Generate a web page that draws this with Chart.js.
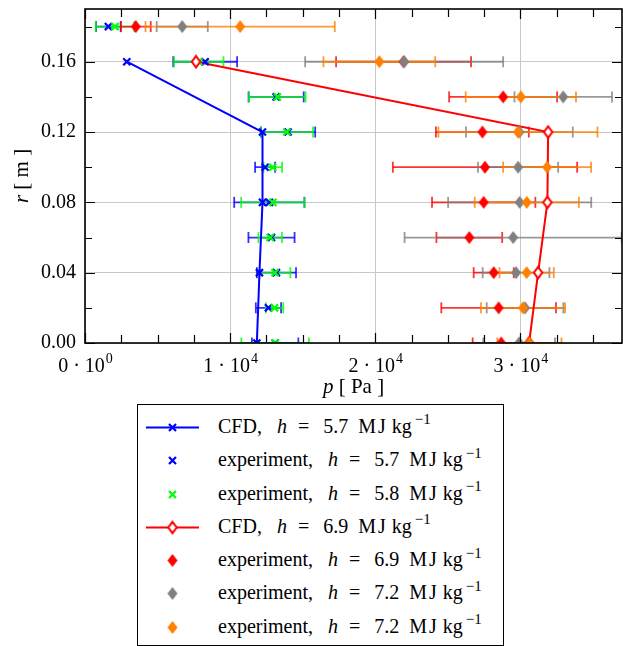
<!DOCTYPE html>
<html>
<head>
<meta charset="utf-8">
<script src="https://cdn.jsdelivr.net/npm/chart.js@4.4.1/dist/chart.umd.min.js"></script>
<style>
  html, body { margin: 0; padding: 0; background: #fff; }
  #wrap { position: relative; width: 623px; height: 646px; overflow: hidden; }
  #chart { position: absolute; left: 0; top: 0; }
  #legend {
    position: absolute; left: 137px; top: 404px; width: 367px; height: 242px;
    box-sizing: border-box; border: 1px solid #000; background: #fff;
    font-family: 'Liberation Serif', 'Times New Roman', 'DejaVu Serif', serif; font-size: 20px; color: #000;
    padding-top: 6px;
  }
  .row { position: relative; height: 33.3px; }
  .row canvas { position: absolute; left: 7px; top: 0; }
  .row .txt { position: absolute; left: 80px; top: 4px; white-space: nowrap; }
  .row .h { margin-left: 15px; font-style: italic; }
  .row .eq { margin-left: 11px; }
  .row .val { margin-left: 14px; }
  .row .mj { margin-left: 10px; letter-spacing: 2px; }
  .row .kg { margin-left: 4px; }
  .row sup { font-size: 15px; margin-left: 3px; position: relative; top: -1px; vertical-align: super; line-height: 0; }
</style>
</head>
<body>
<div id="wrap">
  <canvas id="chart" width="623" height="646"></canvas>
  <div id="legend"></div>
</div>
<script>
// radial positions of the measurement rows [m]
const rRows = [0, 0.02, 0.04, 0.06, 0.08, 0.10, 0.12, 0.14, 0.16, 0.18];

// CFD profiles
const cfdR = [0, 0.04, 0.08, 0.12, 0.16];
const cfdP57 = [11840, 12020, 12230, 12230, 2880];
const cfdP69 = [30600, 31220, 31860, 31910, 7650];

// experiments (value and half-width of the error bar), one entry per rRows
const expP57 = [13100, 12640, 13190, 12850, 12700, 12410, 13990, 13170, 8280, 1610];
const expErr57 = [1600, 870, 1350, 1590, 2420, 690, 1870, 1900, 2200, 850];
const expP58 = [13100, 13060, 13090, 12760, 12940, 12940, 13910, 13250, 7840, 2070];
const expErr58 = [2330, 600, 1060, 810, 2180, 640, 1800, 1950, 1700, 1330];
const expP69 = [28680, 28500, 28160, 26480, 27470, 27560, 27380, 28810, 21950, 3500];
const expErr69 = [1970, 3950, 1380, 2265, 3560, 6350, 3200, 3720, 4650, 1030];
const expP72a = [29910, 30320, 29700, 29500, 29950, 29840, 29930, 32950, 21990, 6700];
const expErr72a = [2470, 2640, 2300, 7480, 4930, 2760, 3680, 3360, 6820, 1760];
const expP72b = [30620, 30180, 30430, null, 30440, 31840, 29830, 30030, 20280, 10690];
const expErr72b = [2210, 2900, 1870, null, 3590, 3030, 5480, 3800, 3850, 6520];

// axes
const xTicks = [0, 10000, 20000, 30000];
const xTickLabels = ['0 · 10^0', '1 · 10^4', '2 · 10^4', '3 · 10^4'];
const yTicks = [0, 0.04, 0.08, 0.12, 0.16];

const BLUE = '#0000ff', GREEN = '#00ff00', RED = '#ff0000', GRAY = '#808080', ORANGE = '#ff8000';
const FONT = "'Liberation Serif', 'Times New Roman', 'DejaVu Serif', serif";

function toPoints(ps, rs) {
  const out = [];
  ps.forEach((p, i) => { if (p != null) out.push({ x: p, y: rs[i] }); });
  return out;
}

// each error bar is a two-point segment, separated by a gap
function toBars(ps, errs, rs) {
  const out = [];
  ps.forEach((p, i) => {
    if (p == null) return;
    out.push({ x: p - errs[i], y: rs[i] }, { x: p + errs[i], y: rs[i] }, { x: null, y: null });
  });
  return out;
}

function diamond(fill, stroke) {
  const c = document.createElement('canvas');
  c.width = 12; c.height = 15;
  const g = c.getContext('2d');
  g.beginPath();
  if (stroke) {
    g.moveTo(6, 1.8); g.lineTo(10.2, 7.5); g.lineTo(6, 13.2); g.lineTo(1.8, 7.5);
  } else {
    g.moveTo(6, 1); g.lineTo(11, 7.5); g.lineTo(6, 14); g.lineTo(1, 7.5);
  }
  g.closePath();
  g.fillStyle = fill; g.fill();
  if (stroke) { g.lineWidth = 2; g.strokeStyle = stroke; g.stroke(); }
  return c;
}

const redOpen = diamond('#fff', RED);
const redFull = diamond(RED);
const grayFull = diamond(GRAY);
const orangeFull = diamond(ORANGE);

function markers(label, data, style, color, order) {
  const isImg = typeof style !== 'string';
  return {
    label, data, order, showLine: false,
    pointStyle: style, pointRadius: isImg ? 6 : 5,
    pointBorderColor: color, pointBackgroundColor: color, pointBorderWidth: 2.2,
  };
}

function bars(data, color, order) {
  return {
    data, order, showLine: true, spanGaps: false,
    borderColor: color, borderWidth: 1.8,
    pointStyle: 'line', pointRotation: 90, pointRadius: 5.5,
    pointBorderColor: color, pointBorderWidth: 1.8,
  };
}

function cfdLine(data, color, order) {
  return { data, order, showLine: true, borderColor: color, borderWidth: 2, pointRadius: 0 };
}

function alpha(hex, a) {
  const n = parseInt(hex.slice(1), 16);
  return `rgba(${n >> 16},${(n >> 8) & 255},${n & 255},${a})`;
}

const datasets = [
  markers('exp 7.2 b', toPoints(expP72b, rRows), orangeFull, ORANGE, 0),
  markers('exp 7.2 a', toPoints(expP72a, rRows), grayFull, GRAY, 1),
  markers('exp 6.9', toPoints(expP69, rRows), redFull, RED, 2),
  markers('CFD 6.9', toPoints(cfdP69, cfdR), redOpen, RED, 3),
  markers('exp 5.8', toPoints(expP58, rRows), 'crossRot', GREEN, 4),
  markers('exp 5.7', toPoints(expP57, rRows), 'crossRot', BLUE, 5),
  markers('CFD 5.7', toPoints(cfdP57, cfdR), 'crossRot', BLUE, 6),
  cfdLine(toPoints(cfdP69, cfdR), RED, 7),
  cfdLine(toPoints(cfdP57, cfdR), BLUE, 8),
  bars(toBars(expP72b, expErr72b, rRows), alpha(ORANGE, 0.8), 9),
  bars(toBars(expP72a, expErr72a, rRows), alpha(GRAY, 0.8), 10),
  bars(toBars(expP69, expErr69, rRows), alpha(RED, 0.8), 11),
  bars(toBars(expP58, expErr58, rRows), alpha(GREEN, 0.8), 12),
  bars(toBars(expP57, expErr57, rRows), alpha(BLUE, 0.8), 13),
];

// inward ticks on all four sides, frame, x tick labels and axis titles
const framePlugin = {
  id: 'frame',
  afterDraw(chart) {
    const { ctx, chartArea: a, scales: { x, y } } = chart;
    ctx.save();
    ctx.strokeStyle = '#000';
    ctx.lineWidth = 1.2;
    ctx.beginPath();
    for (let i = 0; i * 2500 <= x.max; i++) {
      const px = Math.round(x.getPixelForValue(i * 2500)) + 0.5;
      const len = i % 4 === 0 ? 10 : 8;
      ctx.moveTo(px, a.bottom); ctx.lineTo(px, a.bottom - len);
      ctx.moveTo(px, a.top); ctx.lineTo(px, a.top + len);
    }
    for (let i = 0; i * 0.02 <= y.max; i++) {
      const py = Math.round(y.getPixelForValue(i * 0.02)) + 0.5;
      const len = i % 2 === 0 ? 10 : 7;
      ctx.moveTo(a.left, py); ctx.lineTo(a.left + len, py);
      ctx.moveTo(a.right, py); ctx.lineTo(a.right - len, py);
    }
    ctx.stroke();
    ctx.lineWidth = 1.6;
    ctx.strokeRect(a.left, a.top, a.right - a.left, a.bottom - a.top);

    ctx.fillStyle = '#000';
    ctx.textBaseline = 'alphabetic';
    xTicks.forEach((v, i) => {
      const [base, exp] = xTickLabels[i].split('^');
      ctx.font = `20px ${FONT}`;
      const wb = ctx.measureText(base).width;
      ctx.font = `14px ${FONT}`;
      const we = ctx.measureText(exp).width;
      const cx = x.getPixelForValue(v);
      const left = cx - (wb + we) / 2;
      ctx.font = `20px ${FONT}`;
      ctx.fillText(base, left, 372);
      ctx.font = `14px ${FONT}`;
      ctx.fillText(exp, left + wb + 1, 363);
    });

    drawMixed(ctx, [['p', true], [' [ Pa ]', false]], (a.left + a.right) / 2, 393);

    ctx.translate(28, (a.top + a.bottom) / 2);
    ctx.rotate(-Math.PI / 2);
    drawMixed(ctx, [['r', true], [' [ m ]', false]], 0, 0);
    ctx.restore();
  }
};

function drawMixed(ctx, parts, cx, baseline) {
  const fonts = parts.map(([, it]) => `${it ? 'italic ' : ''}21px ${FONT}`);
  let total = 0;
  const widths = parts.map(([t], i) => { ctx.font = fonts[i]; const w = ctx.measureText(t).width; total += w; return w; });
  let xPos = cx - total / 2;
  parts.forEach(([t], i) => { ctx.font = fonts[i]; ctx.fillText(t, xPos, baseline); xPos += widths[i]; });
}

new Chart(document.getElementById('chart'), {
  type: 'line',
  data: { datasets },
  options: {
    responsive: false,
    animation: false,
    devicePixelRatio: 1,
    layout: { autoPadding: false, padding: { top: 9, right: 1, left: 0, bottom: 243 } },
    elements: { line: { tension: 0 } },
    plugins: { legend: { display: false }, tooltip: { enabled: false } },
    scales: {
      x: {
        type: 'linear', min: 0, max: 37000,
        afterBuildTicks: (s) => { s.ticks = xTicks.map((v) => ({ value: v })); },
        afterFit: (s) => { s.height = 60; s.paddingLeft = 0; s.paddingRight = 0; },
        ticks: { display: false },
        grid: { color: '#c8c8c8', lineWidth: 1, drawTicks: false },
        border: { display: false },
      },
      y: {
        type: 'linear', min: 0, max: 0.19,
        afterBuildTicks: (s) => { s.ticks = yTicks.map((v) => ({ value: v })); },
        afterFit: (s) => { s.width = 85; s.paddingTop = 0; s.paddingBottom = 0; },
        ticks: {
          padding: 9, color: '#000',
          font: { family: FONT, size: 20 },
          callback: (v) => Number(v).toFixed(2),
        },
        grid: { color: '#c8c8c8', lineWidth: 1, drawTicks: false },
        border: { display: false },
      },
    },
  },
  plugins: [framePlugin],
});

// legend below the plot
const legendItems = [
  { text: 'CFD,', h: '5.7', color: BLUE, mark: 'cross', line: true },
  { text: 'experiment,', h: '5.7', color: BLUE, mark: 'cross' },
  { text: 'experiment,', h: '5.8', color: GREEN, mark: 'cross' },
  { text: 'CFD,', h: '6.9', color: RED, mark: redOpen, line: true },
  { text: 'experiment,', h: '6.9', color: RED, mark: redFull },
  { text: 'experiment,', h: '7.2', color: GRAY, mark: grayFull },
  { text: 'experiment,', h: '7.2', color: ORANGE, mark: orangeFull },
];

const legendEl = document.getElementById('legend');
legendItems.forEach((it) => {
  const row = document.createElement('div');
  row.className = 'row';
  const c = document.createElement('canvas');
  c.width = 58; c.height = 33;
  const g = c.getContext('2d');
  if (it.line) {
    g.strokeStyle = it.color; g.lineWidth = 2;
    g.beginPath(); g.moveTo(1, 16.5); g.lineTo(54, 16.5); g.stroke();
  }
  if (it.mark === 'cross') {
    g.strokeStyle = it.color; g.lineWidth = 2.2;
    g.beginPath();
    g.moveTo(24, 13); g.lineTo(31, 20); g.moveTo(31, 13); g.lineTo(24, 20);
    g.stroke();
  } else {
    g.drawImage(it.mark, 21.5, 9);
  }
  row.appendChild(c);
  const s = document.createElement('span');
  s.className = 'txt';
  s.innerHTML = `${it.text}<span class="h">h</span><span class="eq">=</span>` +
    `<span class="val">${it.h}</span><span class="mj">MJ</span><span class="kg">kg</span><sup>−1</sup>`;
  row.appendChild(s);
  legendEl.appendChild(row);
});
</script>
</body>
</html>
